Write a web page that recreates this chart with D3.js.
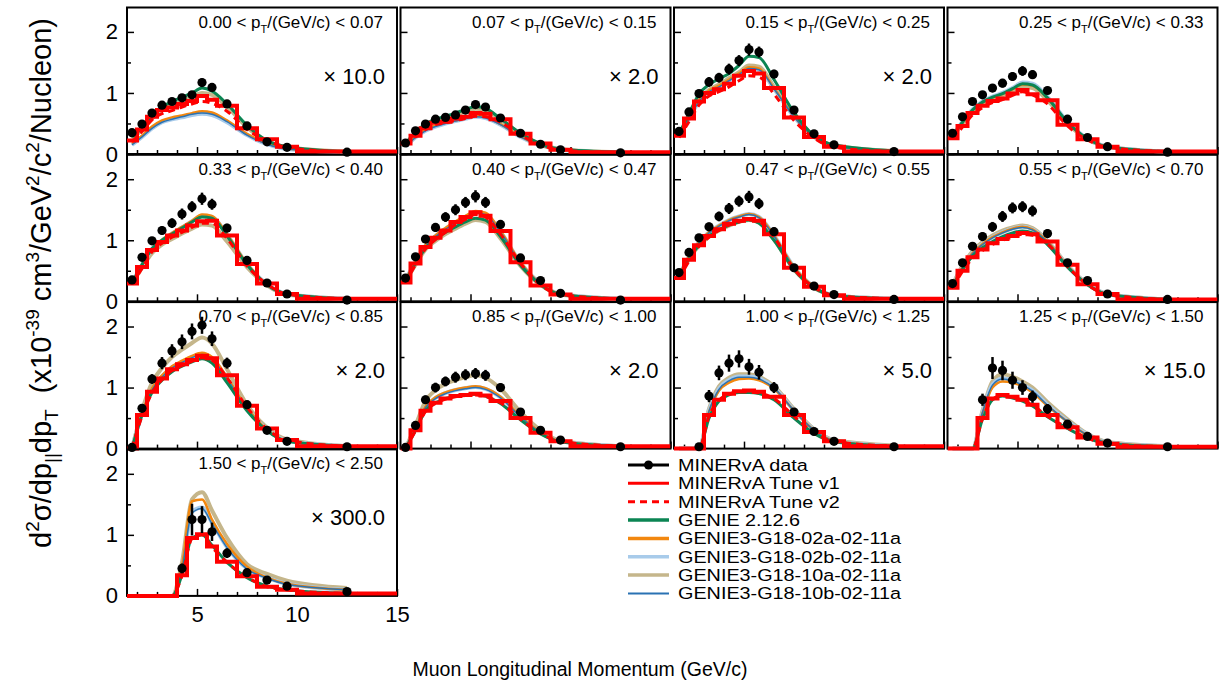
<!DOCTYPE html>
<html><head><meta charset="utf-8">
<script src="https://cdn.jsdelivr.net/npm/d3@7"></script>
<style>
body{margin:0;background:#fff;}
text{font-family:"Liberation Sans",Arial,Helvetica,sans-serif;fill:#000;}
</style>
</head><body>
<svg id="c" width="1222" height="698"></svg>
<script>
const binEdges = [1.5,2,2.5,3,3.5,4,4.5,5,5.5,6,7,8,9,10,15];
const binCenters = [1.75,2.25,2.75,3.25,3.75,4.25,4.75,5.25,5.75,6.5,7.5,8.5,9.5,12.5];
const ptLow  = ["0.00","0.07","0.15","0.25","0.33","0.40","0.47","0.55","0.70","0.85","1.00","1.25","1.50"];
const ptHigh = ["0.07","0.15","0.25","0.33","0.40","0.47","0.55","0.70","0.85","1.00","1.25","1.50","2.50"];
const scaleLabels = ["10.0","2.0","2.0","","","","","","2.0","2.0","5.0","15.0","300.0"];
const yTickValues = [0,1,2];
const xTickValues = [5,10,15];

const dataVals = [
 [0.35,0.49,0.67,0.80,0.86,0.92,0.97,1.17,1.09,0.82,0.46,0.20,0.11,0.03],
 [0.18,0.38,0.49,0.57,0.60,0.64,0.72,0.81,0.77,0.59,0.34,0.16,0.07,0.02],
 [0.37,0.69,0.99,1.18,1.25,1.39,1.53,1.71,1.67,1.31,0.72,0.33,0.15,0.04],
 [0.34,0.61,0.86,0.97,1.08,1.16,1.27,1.36,1.30,1.04,0.57,0.27,0.12,0.03],
 [0.35,0.72,0.99,1.16,1.28,1.43,1.55,1.68,1.59,1.20,0.67,0.30,0.12,0.02],
 [0.38,0.73,1.02,1.21,1.38,1.50,1.62,1.72,1.62,1.26,0.71,0.34,0.13,0.02],
 [0.47,0.80,1.04,1.22,1.39,1.52,1.64,1.71,1.60,1.14,0.55,0.25,0.11,0.03],
 [0.29,0.63,0.90,1.06,1.22,1.39,1.53,1.55,1.48,1.11,0.63,0.34,0.12,0.03],
 [0.02,0.66,1.14,1.40,1.60,1.75,1.92,2.02,1.80,1.40,0.72,0.30,0.12,0.03],
 [0.02,0.38,0.80,1.00,1.10,1.17,1.21,1.23,1.20,1.00,0.60,0.30,0.14,0.03],
 [null,null,0.03,0.86,1.24,1.40,1.47,1.34,1.25,1.00,0.60,0.28,0.12,0.03],
 [null,null,null,0.80,1.32,1.28,1.12,1.00,0.85,0.65,0.40,0.20,0.09,0.03],
 [null,null,null,null,null,0.45,1.25,1.25,1.05,0.70,0.38,0.26,0.16,0.07]
];
const dataErrs = [
 [0.04,0.04,0.05,0.06,0.05,0.06,0.06,0.07,0.06,0.05,0.04,0.03,0.02,0.01],
 [0.02,0.03,0.03,0.03,0.03,0.03,0.04,0.04,0.04,0.03,0.02,0.01,0.01,0.01],
 [0.03,0.05,0.06,0.08,0.08,0.09,0.09,0.10,0.09,0.07,0.05,0.03,0.02,0.01],
 [0.03,0.04,0.05,0.06,0.06,0.07,0.07,0.08,0.07,0.06,0.04,0.02,0.01,0.01],
 [0.03,0.05,0.06,0.07,0.08,0.09,0.09,0.10,0.09,0.07,0.05,0.03,0.02,0.01],
 [0.03,0.05,0.06,0.07,0.08,0.09,0.09,0.10,0.09,0.07,0.05,0.03,0.02,0.01],
 [0.03,0.05,0.06,0.07,0.08,0.09,0.09,0.10,0.09,0.07,0.05,0.03,0.02,0.01],
 [0.03,0.05,0.06,0.07,0.08,0.09,0.09,0.09,0.09,0.07,0.05,0.03,0.02,0.01],
 [0.01,0.06,0.08,0.10,0.11,0.12,0.13,0.14,0.12,0.09,0.06,0.03,0.02,0.01],
 [0.01,0.05,0.07,0.08,0.08,0.09,0.09,0.09,0.09,0.07,0.05,0.03,0.02,0.01],
 [0,0,0.02,0.10,0.12,0.14,0.14,0.13,0.12,0.09,0.06,0.03,0.02,0.01],
 [0,0,0,0.10,0.18,0.16,0.14,0.12,0.10,0.08,0.05,0.03,0.02,0.01],
 [0,0,0,0,0,0.08,0.26,0.22,0.15,0.08,0.05,0.04,0.03,0.02]
];
const tuneV1 = [
 [0.22,0.40,0.61,0.72,0.76,0.82,0.87,0.95,0.89,0.79,0.42,0.24,0.12,0.04],
 [0.17,0.30,0.42,0.51,0.53,0.58,0.61,0.67,0.66,0.57,0.33,0.17,0.07,0.03],
 [0.30,0.58,0.86,1.00,1.06,1.15,1.28,1.36,1.32,1.08,0.60,0.28,0.12,0.04],
 [0.26,0.46,0.67,0.79,0.87,0.91,0.99,1.05,0.98,0.88,0.48,0.24,0.12,0.04],
 [0.29,0.56,0.84,0.97,1.08,1.16,1.24,1.31,1.32,1.08,0.61,0.29,0.12,0.04],
 [0.31,0.62,0.89,1.04,1.16,1.30,1.38,1.46,1.40,1.15,0.64,0.26,0.11,0.04],
 [0.38,0.68,0.92,1.07,1.18,1.27,1.32,1.35,1.32,1.10,0.55,0.24,0.10,0.04],
 [0.22,0.50,0.72,0.85,0.95,1.02,1.07,1.12,1.10,0.98,0.60,0.28,0.12,0.03],
 [0.00,0.55,0.93,1.15,1.30,1.38,1.45,1.52,1.48,1.20,0.70,0.33,0.14,0.04],
 [0.00,0.30,0.62,0.75,0.82,0.86,0.88,0.90,0.87,0.78,0.50,0.26,0.12,0.04],
 [0.00,0.00,0.00,0.55,0.80,0.90,0.94,0.95,0.93,0.85,0.55,0.27,0.12,0.04],
 [0.00,0.00,0.00,0.50,0.82,0.88,0.85,0.80,0.72,0.55,0.35,0.18,0.08,0.03],
 [0.00,0.00,0.00,0.00,0.00,0.34,0.95,1.01,0.81,0.56,0.32,0.15,0.10,0.04]
];
const tuneV2 = [
 [0.20,0.37,0.56,0.66,0.71,0.77,0.82,0.86,0.83,0.70,0.40,0.22,0.11,0.03],
 [0.15,0.28,0.40,0.48,0.51,0.55,0.58,0.62,0.61,0.52,0.31,0.15,0.07,0.02],
 [0.27,0.53,0.80,0.95,1.02,1.10,1.20,1.28,1.26,0.98,0.55,0.26,0.11,0.04],
 [0.25,0.44,0.64,0.76,0.84,0.89,0.96,1.02,0.97,0.82,0.46,0.23,0.11,0.04],
 [0.28,0.54,0.81,0.95,1.05,1.13,1.21,1.28,1.28,1.03,0.58,0.28,0.12,0.04],
 [0.30,0.60,0.86,1.01,1.13,1.26,1.34,1.42,1.38,1.10,0.62,0.27,0.11,0.04],
 [0.37,0.66,0.90,1.05,1.16,1.25,1.30,1.33,1.30,1.05,0.53,0.23,0.10,0.04],
 [0.22,0.49,0.70,0.83,0.93,1.00,1.05,1.10,1.08,0.94,0.57,0.27,0.11,0.03],
 [0.00,0.53,0.91,1.13,1.28,1.36,1.43,1.49,1.45,1.16,0.68,0.32,0.14,0.04],
 [0.00,0.29,0.61,0.74,0.81,0.85,0.87,0.88,0.85,0.75,0.48,0.25,0.12,0.04],
 [0.00,0.00,0.00,0.53,0.79,0.89,0.93,0.93,0.91,0.82,0.53,0.26,0.12,0.04],
 [0.00,0.00,0.00,0.49,0.81,0.87,0.84,0.79,0.71,0.53,0.34,0.17,0.08,0.03],
 [0.00,0.00,0.00,0.00,0.00,0.33,0.94,1.00,0.80,0.55,0.31,0.15,0.10,0.04]
];
const genie2126 = [
 [0.28,0.43,0.62,0.77,0.86,0.93,1.00,1.08,1.03,0.82,0.47,0.22,0.12,0.04],
 [0.17,0.36,0.49,0.57,0.62,0.67,0.73,0.78,0.75,0.58,0.34,0.17,0.08,0.03],
 [0.33,0.66,0.98,1.14,1.23,1.32,1.45,1.60,1.58,1.22,0.68,0.30,0.15,0.05],
 [0.30,0.52,0.72,0.85,0.93,0.99,1.07,1.15,1.13,0.92,0.52,0.25,0.12,0.04],
 [0.30,0.60,0.86,1.00,1.10,1.20,1.30,1.38,1.36,1.07,0.60,0.27,0.12,0.04],
 [0.33,0.62,0.87,1.02,1.13,1.22,1.30,1.36,1.33,1.06,0.59,0.27,0.11,0.04],
 [0.40,0.70,0.92,1.07,1.17,1.25,1.30,1.33,1.28,1.00,0.52,0.22,0.10,0.04],
 [0.24,0.52,0.74,0.88,0.98,1.06,1.12,1.15,1.12,0.93,0.56,0.27,0.11,0.03],
 [0.00,0.55,0.92,1.12,1.26,1.35,1.42,1.47,1.40,1.08,0.62,0.29,0.12,0.04],
 [0.00,0.30,0.62,0.75,0.82,0.86,0.88,0.89,0.86,0.74,0.47,0.24,0.11,0.04],
 [0.00,0.00,0.00,0.50,0.78,0.88,0.92,0.92,0.90,0.80,0.50,0.25,0.11,0.04],
 [0.00,0.00,0.00,0.48,0.80,0.86,0.83,0.78,0.70,0.52,0.33,0.17,0.08,0.03],
 [0.00,0.00,0.00,0.00,0.00,0.35,0.95,1.00,0.83,0.55,0.30,0.16,0.10,0.04]
];
const g18_02a = [
 [0.17,0.30,0.45,0.55,0.60,0.63,0.67,0.70,0.68,0.55,0.33,0.17,0.09,0.03],
 [0.13,0.28,0.40,0.47,0.51,0.55,0.59,0.63,0.61,0.49,0.29,0.14,0.07,0.02],
 [0.30,0.60,0.88,1.04,1.12,1.22,1.32,1.42,1.40,1.08,0.62,0.28,0.13,0.04],
 [0.29,0.51,0.71,0.84,0.92,0.98,1.06,1.14,1.12,0.91,0.51,0.25,0.12,0.04],
 [0.30,0.60,0.86,1.01,1.12,1.22,1.32,1.42,1.40,1.10,0.62,0.28,0.12,0.04],
 [0.35,0.66,0.92,1.08,1.20,1.31,1.40,1.48,1.45,1.15,0.64,0.29,0.12,0.04],
 [0.42,0.73,0.97,1.13,1.24,1.33,1.39,1.43,1.38,1.08,0.56,0.24,0.10,0.04],
 [0.26,0.56,0.79,0.94,1.05,1.13,1.19,1.22,1.18,0.98,0.58,0.28,0.12,0.03],
 [0.00,0.58,0.99,1.20,1.35,1.44,1.52,1.57,1.50,1.17,0.67,0.31,0.13,0.04],
 [0.00,0.33,0.69,0.84,0.92,0.97,1.00,1.02,0.99,0.85,0.53,0.27,0.12,0.04],
 [0.00,0.00,0.00,0.60,0.95,1.08,1.14,1.15,1.12,0.98,0.62,0.30,0.13,0.04],
 [0.00,0.00,0.00,0.58,1.00,1.10,1.08,1.02,0.92,0.70,0.44,0.22,0.10,0.04],
 [0.00,0.00,0.00,0.00,0.00,0.50,1.55,1.58,1.25,0.85,0.48,0.30,0.20,0.10]
];
const g18_02b = [
 [0.15,0.28,0.42,0.52,0.57,0.60,0.64,0.66,0.64,0.52,0.31,0.16,0.08,0.03],
 [0.12,0.27,0.38,0.45,0.50,0.54,0.58,0.61,0.59,0.48,0.28,0.14,0.07,0.02],
 [0.29,0.58,0.86,1.02,1.10,1.20,1.30,1.40,1.38,1.07,0.61,0.28,0.13,0.04],
 [0.30,0.53,0.73,0.86,0.94,1.00,1.08,1.17,1.15,0.93,0.53,0.25,0.12,0.04],
 [0.30,0.60,0.86,1.00,1.11,1.21,1.31,1.40,1.38,1.09,0.61,0.28,0.12,0.04],
 [0.35,0.65,0.91,1.07,1.19,1.29,1.38,1.46,1.43,1.14,0.63,0.29,0.12,0.04],
 [0.42,0.73,0.97,1.13,1.24,1.33,1.39,1.43,1.38,1.08,0.56,0.24,0.10,0.04],
 [0.26,0.56,0.79,0.94,1.05,1.13,1.19,1.22,1.18,0.98,0.58,0.28,0.12,0.03],
 [0.00,0.57,0.97,1.18,1.33,1.42,1.50,1.55,1.48,1.15,0.66,0.31,0.13,0.04],
 [0.00,0.32,0.68,0.83,0.91,0.96,0.99,1.01,0.98,0.84,0.52,0.26,0.12,0.04],
 [0.00,0.00,0.00,0.62,0.98,1.12,1.18,1.18,1.15,1.00,0.63,0.31,0.13,0.04],
 [0.00,0.00,0.00,0.60,1.05,1.15,1.12,1.05,0.95,0.72,0.45,0.23,0.10,0.04],
 [0.00,0.00,0.00,0.00,0.00,0.45,1.38,1.45,1.20,0.80,0.45,0.30,0.20,0.10]
];
const g18_10a = [
 [0.25,0.40,0.58,0.72,0.80,0.86,0.93,1.00,0.97,0.78,0.44,0.21,0.11,0.04],
 [0.16,0.33,0.46,0.54,0.59,0.64,0.70,0.74,0.72,0.56,0.33,0.16,0.08,0.03],
 [0.30,0.60,0.89,1.05,1.14,1.24,1.34,1.45,1.43,1.10,0.63,0.29,0.14,0.05],
 [0.28,0.50,0.70,0.82,0.90,0.96,1.03,1.10,1.08,0.88,0.50,0.24,0.12,0.04],
 [0.28,0.55,0.79,0.93,1.02,1.11,1.19,1.26,1.24,0.98,0.56,0.26,0.11,0.04],
 [0.32,0.60,0.85,0.99,1.10,1.19,1.27,1.33,1.30,1.03,0.58,0.27,0.11,0.04],
 [0.39,0.69,0.91,1.06,1.16,1.24,1.30,1.33,1.29,1.01,0.52,0.22,0.10,0.04],
 [0.27,0.58,0.82,0.97,1.08,1.16,1.21,1.24,1.20,0.99,0.59,0.28,0.12,0.03],
 [0.00,0.62,1.08,1.32,1.50,1.62,1.73,1.82,1.72,1.30,0.72,0.34,0.15,0.04],
 [0.00,0.38,0.78,0.96,1.06,1.12,1.17,1.20,1.16,0.98,0.60,0.30,0.13,0.04],
 [0.00,0.00,0.00,0.65,1.02,1.16,1.22,1.22,1.18,1.02,0.65,0.32,0.14,0.05],
 [0.00,0.00,0.00,0.62,1.10,1.22,1.18,1.10,1.00,0.76,0.48,0.24,0.11,0.04],
 [0.00,0.00,0.00,0.00,0.00,0.55,1.58,1.70,1.40,0.95,0.52,0.36,0.25,0.13]
];
const g18_10b = [
 [0.15,0.28,0.42,0.52,0.57,0.61,0.65,0.67,0.65,0.53,0.31,0.16,0.08,0.03],
 [0.12,0.27,0.38,0.45,0.50,0.54,0.58,0.61,0.59,0.48,0.28,0.14,0.07,0.02],
 [0.29,0.58,0.86,1.02,1.10,1.20,1.30,1.40,1.38,1.07,0.61,0.28,0.13,0.04],
 [0.29,0.52,0.72,0.85,0.93,0.99,1.07,1.15,1.13,0.92,0.52,0.25,0.12,0.04],
 [0.30,0.59,0.85,0.99,1.10,1.20,1.30,1.39,1.37,1.08,0.61,0.28,0.12,0.04],
 [0.34,0.64,0.90,1.06,1.18,1.28,1.37,1.45,1.42,1.13,0.63,0.29,0.12,0.04],
 [0.41,0.72,0.96,1.12,1.23,1.32,1.38,1.42,1.37,1.07,0.55,0.24,0.10,0.04],
 [0.25,0.55,0.78,0.93,1.04,1.12,1.18,1.21,1.17,0.97,0.58,0.28,0.12,0.03],
 [0.00,0.56,0.96,1.17,1.32,1.41,1.49,1.54,1.47,1.14,0.65,0.30,0.13,0.04],
 [0.00,0.32,0.67,0.82,0.90,0.95,0.98,1.00,0.97,0.83,0.52,0.26,0.12,0.04],
 [0.00,0.00,0.00,0.61,0.97,1.11,1.17,1.17,1.14,0.99,0.62,0.30,0.13,0.04],
 [0.00,0.00,0.00,0.59,1.04,1.14,1.11,1.04,0.94,0.71,0.44,0.22,0.10,0.04],
 [0.00,0.00,0.00,0.00,0.00,0.44,1.36,1.43,1.18,0.79,0.44,0.29,0.19,0.10]
];
const legendNames = ["MINERvA data","MINERvA Tune v1","MINERvA Tune v2","GENIE 2.12.6",
  "GENIE3-G18-02a-02-11a","GENIE3-G18-02b-02-11a","GENIE3-G18-10a-02-11a","GENIE3-G18-10b-02-11a"];

const C = {red:"#ff0000", green:"#0b8553", orange:"#f2870f", lblue:"#a8cbea", tan:"#c5b68b", dblue:"#2a72b3"};
const models = [
  {vals:g18_10a, color:C.tan, w:4},
  {vals:g18_02b, color:C.lblue, w:4},
  {vals:g18_02a, color:C.orange, w:2.5},
  {vals:g18_10b, color:C.dblue, w:1.5},
  {vals:genie2126, color:C.green, w:3}
];

const svg = d3.select("#c");
const W = 270, H = 146.5;
const colX = c => 127 + c*273.5;
const rowB = r => 154 + r*147.3;
const x = d3.scaleLinear().domain([1.5,15]).range([0,W]);
const y = d3.scaleLinear().domain([0,2.4]).range([H,0]);
const smooth = d3.line().x((d,i)=>x(binCenters[i])).y(d=>y(d)).curve(d3.curveMonotoneX);

ptLow.forEach((lo,p)=>{
  const r = Math.floor(p/4), c = p%4;
  const g = svg.append("g").attr("transform",`translate(${colX(c)},${rowB(r)-H})`);
  const cid = "clip"+p;
  g.append("clipPath").attr("id",cid).append("rect").attr("x",0).attr("y",0).attr("width",W).attr("height",H+3);

  g.append("rect").attr("x",0).attr("y",0).attr("width",W).attr("height",H)
    .attr("fill","none").attr("stroke","#000").attr("stroke-width",2);

  const ya = g.append("g").call(d3.axisLeft(y).tickValues(yTickValues).tickSizeInner(-7).tickSizeOuter(0).tickPadding(9)
      .tickFormat(c===0? d3.format("d") : ()=>""));
  const yb = g.append("g").call(d3.axisLeft(y).tickValues([0.5,1.5]).tickSizeInner(-4).tickSizeOuter(0).tickFormat(()=>""));
  const xa = g.append("g").attr("transform",`translate(0,${H})`)
     .call(d3.axisBottom(x).tickValues(xTickValues).tickSizeInner(-7).tickSizeOuter(0).tickPadding(10)
      .tickFormat(p===12? d3.format("d") : ()=>""));
  const xb = g.append("g").attr("transform",`translate(0,${H})`)
     .call(d3.axisBottom(x).tickValues([2,3,4,6,7,8,9,11,12,13,14]).tickSizeInner(-4).tickSizeOuter(0).tickFormat(()=>""));
  [ya,yb,xa,xb].forEach(a=>{a.select(".domain").remove(); a.selectAll("line").attr("stroke","#000").attr("stroke-width",1.5);
     a.selectAll("text").attr("font-size",22).attr("font-family","Liberation Sans, Arial, sans-serif").attr("fill","#000");});

  const pg = g.append("g").attr("clip-path",`url(#${cid})`);
  models.forEach(m=>{
    pg.append("path").attr("d",smooth(m.vals[p])).attr("fill","none")
      .attr("stroke",m.color).attr("stroke-width",m.w).attr("stroke-linejoin","round");
  });
  pg.append("path").attr("d",smooth(tuneV2[p])).attr("fill","none")
    .attr("stroke",C.red).attr("stroke-width",3).attr("stroke-dasharray","7,5");
  const stepPts = tuneV1[p].map((v,i)=>[binEdges[i],v]).concat([[binEdges[binEdges.length-1], tuneV1[p][tuneV1[p].length-1]]]);
  pg.append("path").attr("d",d3.line().x(d=>x(d[0])).y(d=>y(d[1])).curve(d3.curveStepAfter)(stepPts))
    .attr("fill","none").attr("stroke",C.red).attr("stroke-width",4);

  const dv = dataVals[p].map((v,i)=>({x:binCenters[i],v,e:dataErrs[p][i]})).filter(d=>d.v!==null);
  g.selectAll(".eb").data(dv).enter().append("line")
    .attr("x1",d=>x(d.x)).attr("x2",d=>x(d.x)).attr("y1",d=>y(d.v-d.e)).attr("y2",d=>y(d.v+d.e))
    .attr("stroke","#000").attr("stroke-width",2.5);
  g.selectAll(".pt").data(dv).enter().append("circle")
    .attr("cx",d=>x(d.x)).attr("cy",d=>y(d.v)).attr("r",4.6).attr("fill","#000");

  const t = g.append("text").attr("x",W-14).attr("y",20).attr("text-anchor","end").attr("font-size",17);
  t.append("tspan").text(`${lo} < p`);
  t.append("tspan").attr("font-size",11).attr("dy",5).text("T");
  t.append("tspan").attr("dy",-5).text(`/(GeV/c) < ${ptHigh[p]}`);

  if(scaleLabels[p]){
    g.append("text").attr("x",W-12).attr("y",76).attr("text-anchor","end").attr("font-size",22)
     .text("\u00d7 "+scaleLabels[p]);
  }
});

// y axis title
const yt = svg.append("text").attr("transform","translate(51,283) rotate(-90)").attr("text-anchor","middle").attr("font-size",29);
const parts = [["d",0],["2",-1],["σ/dp",0],["||",1],["dp",0],["T",1],["  (x10",0],["-39",-1],[" cm",0],["3",-1],
  ["/GeV",0],["2",-1],["/c",0],["2",-1],["/Nucleon)",0]];
let prev = 0;
parts.forEach(([s,k])=>{
  const off = k===-1 ? -12 : (k===1 ? 7 : 0);
  yt.append("tspan").attr("dy",off-prev).attr("font-size",k===0?29:19).attr("xml:space","preserve").text(s);
  prev = off;
});

// x axis title
svg.append("text").attr("x",580).attr("y",676).attr("text-anchor","middle").attr("font-size",19.5)
  .text("Muon Longitudinal Momentum (GeV/c)");

// legend
const lg = svg.append("g").attr("transform","translate(628,465)");
const legStyles = [
  {color:"#000", w:3, dash:null, dot:true},
  {color:C.red, w:3, dash:null},
  {color:C.red, w:3, dash:"7,5"},
  {color:C.green, w:3.5},
  {color:C.orange, w:3.5},
  {color:C.lblue, w:3.5},
  {color:C.tan, w:3.5},
  {color:C.dblue, w:2}
];
legendNames.forEach((n,i)=>{
  const yy = i*18.35;
  const s = legStyles[i];
  lg.append("line").attr("x1",0).attr("x2",41).attr("y1",yy).attr("y2",yy)
    .attr("stroke",s.color).attr("stroke-width",s.w).attr("stroke-dasharray",s.dash||null);
  if(s.dot) lg.append("circle").attr("cx",20.5).attr("cy",yy).attr("r",4.5).attr("fill","#000");
  lg.append("text").attr("transform",`translate(50,${yy+6}) scale(1.2,1)`).attr("font-size",16.5).text(n);
});
</script>
</body></html>
